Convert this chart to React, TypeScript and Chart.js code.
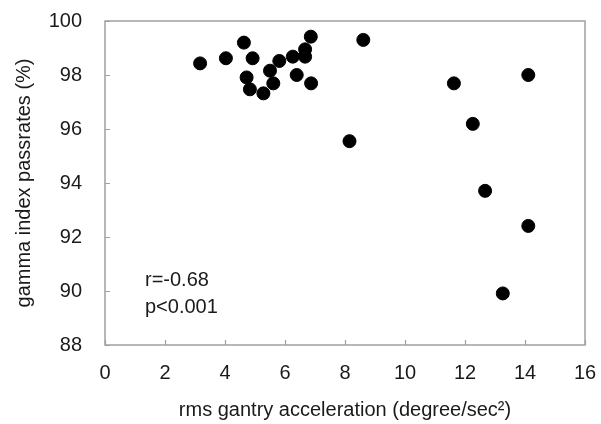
import React, { useEffect, useRef } from "react";
import { Chart, registerables } from "chart.js";

Chart.register(...registerables);

const accel: number[] = [3.17, 4.03, 4.63, 4.92, 4.72, 4.83, 5.28, 5.5, 5.61, 5.81, 6.26, 6.39, 6.67, 6.67, 6.86, 6.87, 8.61, 8.15, 11.63, 14.11, 12.26, 12.67, 14.11, 13.26];
const passrate: number[] = [98.43, 98.62, 99.2, 98.62, 97.91, 97.47, 97.32, 98.16, 97.69, 98.52, 98.68, 98.0, 98.95, 98.68, 99.42, 97.69, 99.3, 95.55, 97.69, 98.0, 96.19, 93.71, 92.41, 89.91];
const xTicks: number[] = [0, 2, 4, 6, 8, 10, 12, 14, 16];
const yTicks: number[] = [88, 90, 92, 94, 96, 98, 100];
const statLines: string[] = ["r=-0.68", "p<0.001"];
const xTitle = "rms gantry acceleration (degree/sec\u00B2)";
const yTitle = "gamma index passrates (%)";

const FONT = "'Liberation Sans', Arial, sans-serif";
const TEXT = "#1a1a1a";
const FRAME = "#a0a0a0";

const framePlugin = {
  id: "frame",
  afterDraw(chart: any) {
    const { ctx, chartArea } = chart;
    const xs = chart.scales.x;
    const ys = chart.scales.y;
    ctx.save();
    ctx.strokeStyle = FRAME;
    ctx.lineWidth = 1.5;
    ctx.strokeRect(chartArea.left, chartArea.top, chartArea.right - chartArea.left, chartArea.bottom - chartArea.top);
    ctx.beginPath();
    xTicks.forEach((v) => {
      const px = Math.round(xs.getPixelForValue(v)) + 0.5;
      ctx.moveTo(px, chartArea.bottom);
      ctx.lineTo(px, chartArea.bottom - 5);
    });
    yTicks.forEach((v) => {
      const py = Math.round(ys.getPixelForValue(v)) + 0.5;
      ctx.moveTo(chartArea.left, py);
      ctx.lineTo(chartArea.left + 5, py);
    });
    ctx.lineWidth = 1.2;
    ctx.stroke();
    ctx.fillStyle = TEXT;
    ctx.font = `20px ${FONT}`;
    ctx.textBaseline = "middle";
    ctx.textAlign = "left";
    statLines.forEach((t, i) => {
      ctx.fillText(t, chartArea.left + 40, chartArea.top + 259 + i * 27);
    });
    ctx.restore();
  },
};

const noPad = (s: any) => {
  s.paddingTop = 0;
  s.paddingBottom = 0;
  s.paddingLeft = 0;
  s.paddingRight = 0;
};

export default function App() {
  const ref = useRef<HTMLCanvasElement | null>(null);
  useEffect(() => {
    if (!ref.current) return;
    const chart = new Chart(ref.current, {
      type: "scatter",
      data: {
        datasets: [
          {
            data: accel.map((x, i) => ({ x, y: passrate[i] })),
            backgroundColor: "#000",
            borderColor: "#000",
            pointRadius: 6.5,
            pointHoverRadius: 6.5,
          },
        ],
      },
      options: {
        responsive: false,
        animation: false,
        events: [],
        layout: { padding: { left: 0, right: 16, top: 21, bottom: 0 } },
        plugins: { legend: { display: false }, tooltip: { enabled: false } },
        scales: {
          x: {
            type: "linear",
            min: 0,
            max: 16,
            afterFit: (s: any) => { s.height = 79; noPad(s); },
            afterBuildTicks: (s: any) => { s.ticks = xTicks.map((v) => ({ value: v })); },
            grid: { display: true, drawOnChartArea: false, drawTicks: false, color: "transparent" },
            border: { display: false },
            ticks: { padding: 16, color: TEXT, font: { family: FONT, size: 20, lineHeight: 1.2 }, maxRotation: 0 },
            title: { display: true, text: xTitle, color: TEXT, font: { family: FONT, size: 20, lineHeight: 1.2 }, padding: { top: 0, bottom: 2 } },
          },
          y: {
            type: "linear",
            min: 88,
            max: 100,
            afterFit: (s: any) => { s.width = 105; noPad(s); },
            afterBuildTicks: (s: any) => { s.ticks = yTicks.map((v) => ({ value: v })); },
            grid: { display: true, drawOnChartArea: false, drawTicks: false, color: "transparent" },
            border: { display: false },
            ticks: { padding: 23, color: TEXT, font: { family: FONT, size: 20, lineHeight: 1.2 } },
            title: { display: true, text: yTitle, color: TEXT, font: { family: FONT, size: 20, lineHeight: 1.2 }, padding: { top: 12, bottom: 0 } },
          },
        },
      },
      plugins: [framePlugin],
    });
    return () => chart.destroy();
  }, []);
  return (
    <div style={{ position: "absolute", left: 0, top: 0, width: 601, height: 424, background: "#fff" }}>
      <canvas ref={ref} width={601} height={424} style={{ display: "block", width: 601, height: 424 }} />
    </div>
  );
}
